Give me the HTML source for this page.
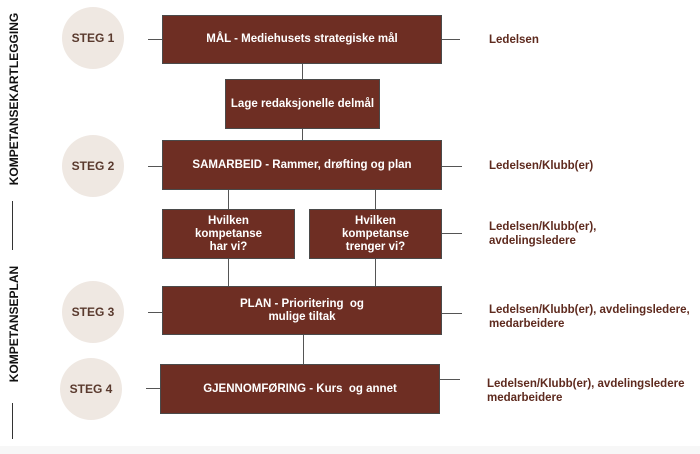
<!DOCTYPE html>
<html><head><meta charset="utf-8"><style>
body{margin:0;width:700px;height:454px;background:#fff;position:relative;overflow:hidden;font-family:"Liberation Sans",sans-serif;}
.b{position:absolute;background:#6e2e23;border:1px solid #4a4a4a;box-sizing:border-box;color:#fff;font-weight:bold;font-size:11.5px;display:flex;align-items:center;justify-content:center;text-align:center;line-height:13px}
.c{position:absolute;width:62px;height:62px;border-radius:50%;background:#efe8e2;color:#5a3a2e;font-weight:bold;font-size:12px;display:flex;align-items:center;justify-content:center}
.h{position:absolute;height:1px;background:#555}
.v{position:absolute;width:1px;background:#555}
.t{position:absolute;color:#5e2a1e;font-weight:bold;font-size:11.5px;line-height:13.5px}
.vt{position:absolute;transform:rotate(-90deg);transform-origin:center;font-weight:bold;font-size:12px;color:#111;white-space:nowrap;text-align:center}
</style></head><body>
<div style="position:absolute;left:0;top:446px;width:700px;height:8px;background:#f7f7f7"></div>
<div class="vt" style="left:-74px;top:92px;width:176px">KOMPETANSEKARTLEGGING</div>
<div style="position:absolute;left:12px;top:201px;width:1px;height:49px;background:#333"></div>
<div class="vt" style="left:-46px;top:317px;width:120px">KOMPETANSEPLAN</div>
<div style="position:absolute;left:12px;top:403px;width:1px;height:36px;background:#333"></div>

<div class="c" style="left:62px;top:7px">STEG 1</div>
<div class="c" style="left:62px;top:135px">STEG 2</div>
<div class="c" style="left:62px;top:281px">STEG 3</div>
<div class="c" style="left:60px;top:358px">STEG 4</div>

<div class="h" style="left:148px;top:39px;width:14px"></div>
<div class="h" style="left:148px;top:166px;width:14px"></div>
<div class="h" style="left:148px;top:312px;width:14px"></div>
<div class="h" style="left:146px;top:388px;width:14px"></div>
<div class="h" style="left:442px;top:39px;width:18px"></div>
<div class="h" style="left:442px;top:166px;width:20px"></div>
<div class="h" style="left:442px;top:233px;width:20px"></div>
<div class="h" style="left:442px;top:313px;width:20px"></div>
<div class="h" style="left:439px;top:379px;width:21px"></div>

<div class="v" style="left:302px;top:63px;height:16px"></div>
<div class="v" style="left:302px;top:128px;height:12px"></div>
<div class="v" style="left:228px;top:189px;height:20px"></div>
<div class="v" style="left:375px;top:189px;height:20px"></div>
<div class="v" style="left:228px;top:258px;height:28px"></div>
<div class="v" style="left:375px;top:258px;height:28px"></div>
<div class="v" style="left:303px;top:334px;height:30px"></div>

<div class="b" style="left:162px;top:15px;width:280px;height:49px">MÅL - Mediehusets strategiske mål</div>
<div class="b" style="left:225px;top:79px;width:155px;height:50px">Lage redaksjonelle delmål</div>
<div class="b" style="left:162px;top:140px;width:280px;height:50px">SAMARBEID - Rammer, drøfting og plan</div>
<div class="b" style="left:162px;top:209px;width:133px;height:50px">Hvilken<br>kompetanse<br>har vi?</div>
<div class="b" style="left:309px;top:209px;width:133px;height:50px">Hvilken<br>kompetanse<br>trenger vi?</div>
<div class="b" style="left:162px;top:286px;width:280px;height:49px;align-items:flex-start;padding-top:11px">PLAN - Prioritering &nbsp;og<br>mulige tiltak</div>
<div class="b" style="left:160px;top:364px;width:280px;height:50px">GJENNOMFØRING - Kurs &nbsp;og annet</div>

<div class="t" style="left:489px;top:34px">Ledelsen</div>
<div class="t" style="left:489px;top:160px">Ledelsen/Klubb(er)</div>
<div class="t" style="left:489px;top:221px">Ledelsen/Klubb(er),<br>avdelingsledere</div>
<div class="t" style="left:489px;top:304px">Ledelsen/Klubb(er), avdelingsledere,<br>medarbeidere</div>
<div class="t" style="left:487px;top:378px">Ledelsen/Klubb(er), avdelingsledere<br>medarbeidere</div>
</body></html>
